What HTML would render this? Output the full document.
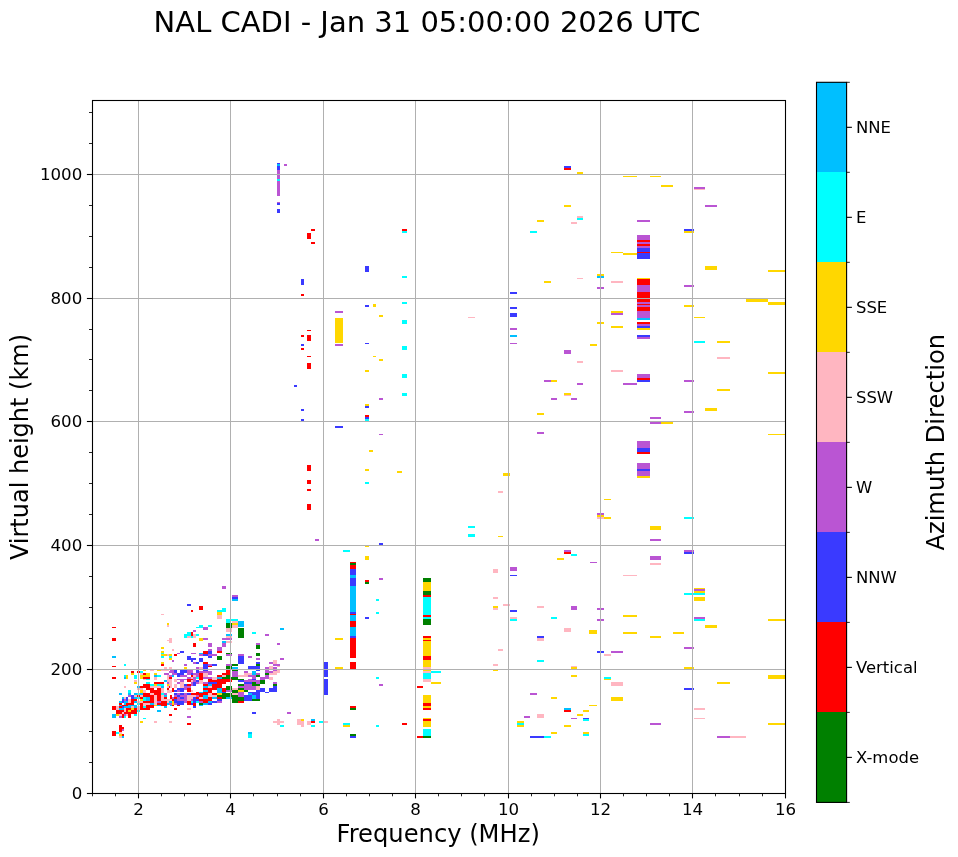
<!DOCTYPE html>
<html><head><meta charset="utf-8"><title>NAL CADI</title>
<style>html,body{margin:0;padding:0;background:#fff;}svg{display:block;}text{font-family:"DejaVu Sans","Liberation Sans",sans-serif;fill:#000;}</style></head><body>
<svg width="958" height="857" viewBox="0 0 958 857">
<rect width="958" height="857" fill="#fff"/>
<g shape-rendering="crispEdges">
<rect x="277" y="163" width="3" height="1.4" fill="#3a3aff"/>
<rect x="277" y="164.4" width="3" height="1.9" fill="#00bfff"/>
<rect x="277" y="166.3" width="3" height="3.7" fill="#3a3aff"/>
<rect x="277" y="170" width="3" height="8.8" fill="#ba55d3"/>
<rect x="277" y="178.8" width="3" height="2.2" fill="#00ffff"/>
<rect x="277" y="181" width="3" height="15" fill="#ba55d3"/>
<rect x="277" y="202" width="3" height="1" fill="#ba55d3"/>
<rect x="277" y="203" width="3" height="2" fill="#3a3aff"/>
<rect x="277" y="209" width="3" height="4" fill="#3a3aff"/>
<rect x="284" y="164" width="3" height="2" fill="#ba55d3"/>
<rect x="311" y="229" width="4" height="2" fill="#ff0000"/>
<rect x="307" y="233" width="4" height="6" fill="#ff0000"/>
<rect x="311" y="242" width="4" height="2" fill="#ff0000"/>
<rect x="301" y="279" width="3" height="6" fill="#3a3aff"/>
<rect x="301" y="294" width="3" height="2" fill="#ff0000"/>
<rect x="365" y="266" width="4" height="6" fill="#3a3aff"/>
<rect x="402" y="276" width="5.3" height="2" fill="#00ffff"/>
<rect x="402" y="302" width="5.3" height="2" fill="#00ffff"/>
<rect x="365" y="305" width="4" height="2" fill="#3a3aff"/>
<rect x="373" y="304" width="3" height="3" fill="#ffd700"/>
<rect x="335" y="311" width="8" height="2" fill="#ba55d3"/>
<rect x="379" y="315" width="4" height="2" fill="#ffd700"/>
<rect x="335" y="318" width="8" height="25" fill="#ffd700"/>
<rect x="335" y="344" width="8" height="2" fill="#ba55d3"/>
<rect x="402" y="320" width="5.3" height="4" fill="#00ffff"/>
<rect x="307" y="330" width="4" height="1" fill="#ff0000"/>
<rect x="301" y="335" width="3" height="2" fill="#ff0000"/>
<rect x="307" y="335" width="4" height="6" fill="#ff0000"/>
<rect x="301" y="344" width="3" height="2" fill="#3a3aff"/>
<rect x="301" y="348" width="3" height="2" fill="#ff0000"/>
<rect x="365" y="343" width="4" height="1" fill="#3a3aff"/>
<rect x="402" y="346" width="5.3" height="4" fill="#00ffff"/>
<rect x="307" y="356" width="4" height="1" fill="#ff0000"/>
<rect x="373" y="356" width="3" height="1" fill="#ffd700"/>
<rect x="379" y="359" width="4" height="2" fill="#ffd700"/>
<rect x="307" y="363" width="4" height="6" fill="#ff0000"/>
<rect x="365" y="370" width="4" height="2" fill="#ffd700"/>
<rect x="402" y="374" width="5.3" height="4" fill="#00ffff"/>
<rect x="402" y="229" width="5.3" height="2" fill="#ff0000"/>
<rect x="402" y="231" width="5.3" height="2" fill="#00ffff"/>
<rect x="294" y="385" width="3" height="2" fill="#3a3aff"/>
<rect x="301" y="409" width="3" height="2" fill="#3a3aff"/>
<rect x="301" y="419" width="3" height="2" fill="#3a3aff"/>
<rect x="402" y="393" width="5.3" height="3" fill="#00ffff"/>
<rect x="379" y="398" width="4" height="2" fill="#ba55d3"/>
<rect x="365" y="404" width="4" height="2" fill="#ffd700"/>
<rect x="365" y="406" width="4" height="2" fill="#3a3aff"/>
<rect x="365" y="415" width="4" height="2" fill="#ff0000"/>
<rect x="365" y="417" width="4" height="2" fill="#3a3aff"/>
<rect x="365" y="419" width="4" height="2" fill="#00ffff"/>
<rect x="335" y="426" width="8" height="2" fill="#3a3aff"/>
<rect x="379" y="434" width="4" height="1" fill="#ba55d3"/>
<rect x="369" y="450" width="4" height="2" fill="#ffd700"/>
<rect x="307" y="465" width="4" height="6" fill="#ff0000"/>
<rect x="365" y="469" width="4" height="2" fill="#ffd700"/>
<rect x="397" y="471" width="5" height="2" fill="#ffd700"/>
<rect x="307" y="480" width="4" height="4" fill="#ff0000"/>
<rect x="365" y="482" width="4" height="2" fill="#00ffff"/>
<rect x="307" y="489" width="4" height="2" fill="#ff0000"/>
<rect x="307" y="504" width="4" height="6" fill="#ff0000"/>
<rect x="315" y="539" width="4" height="2" fill="#ba55d3"/>
<rect x="379" y="543" width="4" height="2" fill="#3a3aff"/>
<rect x="365" y="546" width="4" height="1" fill="#ffd700"/>
<rect x="343" y="550" width="7" height="2" fill="#00ffff"/>
<rect x="365" y="556" width="4" height="4" fill="#ffd700"/>
<rect x="350" y="562" width="6" height="1" fill="#ff0000"/>
<rect x="350" y="563" width="6" height="2" fill="#008000"/>
<rect x="350" y="565" width="6" height="4" fill="#ff0000"/>
<rect x="350" y="569" width="6" height="6" fill="#3a3aff"/>
<rect x="350" y="575" width="6" height="3" fill="#00bfff"/>
<rect x="350" y="578" width="6" height="8" fill="#3a3aff"/>
<rect x="350" y="586" width="6" height="26" fill="#00bfff"/>
<rect x="350" y="612" width="6" height="2" fill="#3a3aff"/>
<rect x="350" y="614" width="6" height="1" fill="#ff0000"/>
<rect x="350" y="615" width="6" height="6" fill="#00bfff"/>
<rect x="350" y="621" width="6" height="6" fill="#ff0000"/>
<rect x="350" y="627" width="6" height="9" fill="#00bfff"/>
<rect x="350" y="636" width="6" height="2" fill="#3a3aff"/>
<rect x="350" y="638" width="6" height="20" fill="#ff0000"/>
<rect x="365" y="580" width="4" height="2" fill="#ff0000"/>
<rect x="365" y="582" width="4" height="2" fill="#008000"/>
<rect x="379" y="578" width="4" height="2" fill="#ba55d3"/>
<rect x="376" y="599" width="3" height="2" fill="#00ffff"/>
<rect x="376" y="612" width="3" height="2" fill="#00ffff"/>
<rect x="365" y="617" width="4" height="2" fill="#3a3aff"/>
<rect x="280" y="628" width="4" height="2" fill="#00bfff"/>
<rect x="335" y="638" width="8" height="2" fill="#ffd700"/>
<rect x="277" y="643" width="3" height="2" fill="#ba55d3"/>
<rect x="280" y="658" width="4" height="2" fill="#ba55d3"/>
<rect x="564" y="166" width="7" height="2" fill="#3a3aff"/>
<rect x="564" y="168" width="7" height="2" fill="#ff0000"/>
<rect x="577" y="172" width="6" height="2" fill="#ffd700"/>
<rect x="564" y="205" width="7" height="2" fill="#ffd700"/>
<rect x="577" y="216" width="6" height="2" fill="#ffb6c1"/>
<rect x="577" y="218" width="6" height="2" fill="#00ffff"/>
<rect x="537" y="220" width="7" height="2" fill="#ffd700"/>
<rect x="571" y="222" width="6" height="2" fill="#ffb6c1"/>
<rect x="530" y="231" width="7" height="2" fill="#00ffff"/>
<rect x="577" y="278" width="6" height="1" fill="#ffb6c1"/>
<rect x="544" y="281" width="7" height="2" fill="#ffd700"/>
<rect x="510" y="292" width="7" height="2" fill="#3a3aff"/>
<rect x="510" y="307" width="7" height="2" fill="#3a3aff"/>
<rect x="510" y="313" width="7" height="4" fill="#3a3aff"/>
<rect x="468" y="317" width="7" height="1" fill="#ffb6c1"/>
<rect x="510" y="328" width="7" height="2" fill="#ba55d3"/>
<rect x="510" y="335" width="7" height="2" fill="#00bfff"/>
<rect x="510" y="343" width="7" height="1" fill="#ba55d3"/>
<rect x="564" y="350" width="7" height="4" fill="#ba55d3"/>
<rect x="577" y="361" width="6" height="2" fill="#ffb6c1"/>
<rect x="544" y="380" width="7" height="2" fill="#ba55d3"/>
<rect x="551" y="380" width="6" height="2" fill="#ffd700"/>
<rect x="577" y="383" width="6" height="2" fill="#ba55d3"/>
<rect x="564" y="393" width="7" height="2" fill="#ffd700"/>
<rect x="564" y="395" width="7" height="1" fill="#ffb6c1"/>
<rect x="551" y="398" width="6" height="2" fill="#ba55d3"/>
<rect x="571" y="398" width="6" height="2" fill="#ba55d3"/>
<rect x="537" y="413" width="7" height="2" fill="#ffd700"/>
<rect x="537" y="432" width="7" height="2" fill="#ba55d3"/>
<rect x="503" y="473" width="7" height="3" fill="#ffd700"/>
<rect x="498" y="491" width="5" height="2" fill="#ffb6c1"/>
<rect x="468" y="526" width="7" height="2" fill="#00ffff"/>
<rect x="468" y="534" width="7" height="3" fill="#00ffff"/>
<rect x="498" y="536" width="5" height="1" fill="#ffd700"/>
<rect x="564" y="550" width="7" height="2" fill="#ba55d3"/>
<rect x="564" y="552" width="7" height="2" fill="#ff0000"/>
<rect x="571" y="554" width="6" height="2" fill="#00ffff"/>
<rect x="557" y="558" width="7" height="2" fill="#ffd700"/>
<rect x="623" y="176" width="14" height="1" fill="#ffd700"/>
<rect x="650" y="176" width="11" height="1" fill="#ffd700"/>
<rect x="661" y="185" width="12" height="2" fill="#ffd700"/>
<rect x="694" y="187" width="11" height="2" fill="#ba55d3"/>
<rect x="694" y="189" width="11" height="1" fill="#ffb6c1"/>
<rect x="705" y="205" width="12" height="2" fill="#ba55d3"/>
<rect x="637" y="220" width="13" height="2" fill="#ba55d3"/>
<rect x="684" y="229" width="10" height="2" fill="#3a3aff"/>
<rect x="684" y="231" width="10" height="2" fill="#ffd700"/>
<rect x="637" y="235" width="13" height="5" fill="#ba55d3"/>
<rect x="637" y="240" width="13" height="2" fill="#ff0000"/>
<rect x="637" y="242" width="13" height="2" fill="#ba55d3"/>
<rect x="637" y="244" width="13" height="2" fill="#ff0000"/>
<rect x="637" y="246" width="13" height="2" fill="#ba55d3"/>
<rect x="637" y="248" width="13" height="4" fill="#3a3aff"/>
<rect x="637" y="252" width="13" height="1" fill="#ff0000"/>
<rect x="637" y="253" width="13" height="6" fill="#3a3aff"/>
<rect x="611" y="252" width="12" height="1" fill="#ffd700"/>
<rect x="623" y="253" width="14" height="2" fill="#ffd700"/>
<rect x="705" y="266" width="12" height="4" fill="#ffd700"/>
<rect x="597" y="274" width="7" height="2" fill="#ffd700"/>
<rect x="597" y="276" width="7" height="2" fill="#00bfff"/>
<rect x="611" y="281" width="12" height="2" fill="#ffb6c1"/>
<rect x="597" y="287" width="7" height="2" fill="#ba55d3"/>
<rect x="684" y="285" width="10" height="2" fill="#ba55d3"/>
<rect x="637" y="278" width="13" height="1" fill="#ffd700"/>
<rect x="637" y="279" width="13" height="6" fill="#ff0000"/>
<rect x="637" y="285" width="13" height="7" fill="#ba55d3"/>
<rect x="637" y="292" width="13" height="10" fill="#ff0000"/>
<rect x="637" y="302" width="13" height="2" fill="#ba55d3"/>
<rect x="637" y="304" width="13" height="1" fill="#ff0000"/>
<rect x="637" y="305" width="13" height="2" fill="#ba55d3"/>
<rect x="637" y="307" width="13" height="4" fill="#ff0000"/>
<rect x="637" y="311" width="13" height="7" fill="#ba55d3"/>
<rect x="637" y="318" width="13" height="2" fill="#00bfff"/>
<rect x="637" y="322" width="13" height="2" fill="#ff0000"/>
<rect x="637" y="324" width="13" height="2" fill="#ba55d3"/>
<rect x="637" y="326" width="13" height="2" fill="#3a3aff"/>
<rect x="637" y="328" width="13" height="2" fill="#ffd700"/>
<rect x="637" y="335" width="13" height="2" fill="#3a3aff"/>
<rect x="637" y="337" width="13" height="2" fill="#ba55d3"/>
<rect x="684" y="305" width="10" height="2" fill="#ffd700"/>
<rect x="611" y="311" width="12" height="2" fill="#ffd700"/>
<rect x="611" y="313" width="12" height="2" fill="#ba55d3"/>
<rect x="694" y="317" width="11" height="1" fill="#ffd700"/>
<rect x="597" y="322" width="7" height="2" fill="#ffd700"/>
<rect x="611" y="326" width="12" height="2" fill="#ffd700"/>
<rect x="694" y="341" width="11" height="2" fill="#00ffff"/>
<rect x="717" y="341" width="13" height="2" fill="#ffd700"/>
<rect x="590" y="344" width="7" height="2" fill="#ffd700"/>
<rect x="717" y="357" width="13" height="2" fill="#ffb6c1"/>
<rect x="611" y="370" width="12" height="2" fill="#ffb6c1"/>
<rect x="637" y="374" width="13" height="4" fill="#ba55d3"/>
<rect x="637" y="378" width="13" height="2" fill="#ff0000"/>
<rect x="637" y="380" width="13" height="2" fill="#3a3aff"/>
<rect x="684" y="380" width="10" height="2" fill="#ba55d3"/>
<rect x="623" y="383" width="14" height="2" fill="#ba55d3"/>
<rect x="717" y="389" width="13" height="2" fill="#ffd700"/>
<rect x="705" y="408" width="12" height="3" fill="#ffd700"/>
<rect x="684" y="411" width="10" height="2" fill="#ba55d3"/>
<rect x="650" y="417" width="11" height="2" fill="#ba55d3"/>
<rect x="650" y="422" width="11" height="2" fill="#ba55d3"/>
<rect x="661" y="422" width="12" height="2" fill="#ffd700"/>
<rect x="637" y="441" width="13" height="7" fill="#ba55d3"/>
<rect x="637" y="448" width="13" height="4" fill="#3a3aff"/>
<rect x="637" y="452" width="13" height="2" fill="#ff0000"/>
<rect x="637" y="463" width="13" height="6" fill="#ba55d3"/>
<rect x="637" y="469" width="13" height="2" fill="#3a3aff"/>
<rect x="637" y="471" width="13" height="5" fill="#ba55d3"/>
<rect x="637" y="476" width="13" height="2" fill="#ffd700"/>
<rect x="604" y="499" width="7" height="1" fill="#ffd700"/>
<rect x="597" y="513" width="7" height="2" fill="#ba55d3"/>
<rect x="597" y="515" width="7" height="2" fill="#ffd700"/>
<rect x="597" y="517" width="7" height="2" fill="#ffb6c1"/>
<rect x="604" y="517" width="7" height="2" fill="#ffd700"/>
<rect x="684" y="517" width="10" height="2" fill="#00ffff"/>
<rect x="650" y="526" width="11" height="4" fill="#ffd700"/>
<rect x="650" y="539" width="11" height="2" fill="#ba55d3"/>
<rect x="684" y="550" width="10" height="2" fill="#ba55d3"/>
<rect x="684" y="552" width="10" height="2" fill="#3a3aff"/>
<rect x="650" y="556" width="11" height="4" fill="#ba55d3"/>
<rect x="650" y="563" width="11" height="2" fill="#ffb6c1"/>
<rect x="590" y="562" width="7" height="1" fill="#ba55d3"/>
<rect x="623" y="575" width="14" height="1" fill="#ffb6c1"/>
<rect x="768" y="270" width="17" height="2" fill="#ffd700"/>
<rect x="746" y="299" width="22" height="3" fill="#ffd700"/>
<rect x="768" y="302" width="17" height="3" fill="#ffd700"/>
<rect x="768" y="372" width="17" height="2" fill="#ffd700"/>
<rect x="768" y="433.5" width="17" height="1.5" fill="#ffd700"/>
<rect x="694" y="588" width="11" height="1" fill="#ffd700"/>
<rect x="694" y="589" width="11" height="2" fill="#ba55d3"/>
<rect x="694" y="591" width="11" height="2" fill="#ffd700"/>
<rect x="684" y="593" width="21" height="2" fill="#00ffff"/>
<rect x="694" y="597" width="11" height="4" fill="#ffd700"/>
<rect x="694" y="617" width="11" height="2" fill="#ba55d3"/>
<rect x="694" y="619" width="11" height="2" fill="#00ffff"/>
<rect x="768" y="619" width="17" height="2" fill="#ffd700"/>
<rect x="705" y="625" width="12" height="3" fill="#ffd700"/>
<rect x="673" y="632" width="11" height="2" fill="#ffd700"/>
<rect x="684" y="647" width="10" height="2" fill="#ba55d3"/>
<rect x="684" y="667" width="10" height="2" fill="#ffd700"/>
<rect x="768" y="675" width="17" height="4" fill="#ffd700"/>
<rect x="717" y="682" width="13" height="2" fill="#ffd700"/>
<rect x="684" y="688" width="10" height="2" fill="#3a3aff"/>
<rect x="694" y="708" width="11" height="2" fill="#ffb6c1"/>
<rect x="694" y="718" width="11" height="1" fill="#ffb6c1"/>
<rect x="768" y="723" width="17" height="2" fill="#ffd700"/>
<rect x="717" y="736" width="13" height="2" fill="#ba55d3"/>
<rect x="730" y="736" width="16" height="2" fill="#ffb6c1"/>
<rect x="510" y="567" width="7" height="4" fill="#ba55d3"/>
<rect x="510" y="575" width="7" height="1" fill="#3a3aff"/>
<rect x="493" y="569" width="5" height="4" fill="#ffb6c1"/>
<rect x="493" y="597" width="5" height="2" fill="#ffb6c1"/>
<rect x="503" y="604" width="7" height="2" fill="#ffb6c1"/>
<rect x="493" y="606" width="5" height="2" fill="#ffd700"/>
<rect x="493" y="608" width="5" height="2" fill="#ffb6c1"/>
<rect x="537" y="606" width="7" height="2" fill="#ffb6c1"/>
<rect x="571" y="606" width="6" height="4" fill="#ba55d3"/>
<rect x="510" y="610" width="7" height="2" fill="#3a3aff"/>
<rect x="510" y="617" width="7" height="2" fill="#ffb6c1"/>
<rect x="510" y="619" width="7" height="2" fill="#00ffff"/>
<rect x="551" y="617" width="6" height="2" fill="#00ffff"/>
<rect x="564" y="628" width="7" height="4" fill="#ffb6c1"/>
<rect x="589" y="630" width="8" height="4" fill="#ffd700"/>
<rect x="537" y="636" width="7" height="2" fill="#3a3aff"/>
<rect x="537" y="638" width="7" height="3" fill="#ffb6c1"/>
<rect x="498" y="649" width="5" height="2" fill="#ffb6c1"/>
<rect x="537" y="660" width="7" height="2" fill="#00ffff"/>
<rect x="493" y="664" width="5" height="2" fill="#ffb6c1"/>
<rect x="571" y="666" width="6" height="1" fill="#ffb6c1"/>
<rect x="571" y="667" width="6" height="2" fill="#ffd700"/>
<rect x="493" y="670" width="5" height="1" fill="#ffd700"/>
<rect x="431" y="671" width="10" height="2" fill="#00ffff"/>
<rect x="571" y="675" width="6" height="2" fill="#ffd700"/>
<rect x="431" y="682" width="10" height="2" fill="#ffd700"/>
<rect x="530" y="693" width="7" height="2" fill="#ba55d3"/>
<rect x="551" y="697" width="6" height="2" fill="#ffd700"/>
<rect x="589" y="705" width="8" height="1" fill="#ffd700"/>
<rect x="564" y="708" width="7" height="2" fill="#00bfff"/>
<rect x="564" y="710" width="7" height="2" fill="#ff0000"/>
<rect x="583" y="710" width="6" height="2" fill="#ffd700"/>
<rect x="577" y="714" width="6" height="2" fill="#ffd700"/>
<rect x="524" y="716" width="6" height="2" fill="#ba55d3"/>
<rect x="537" y="714" width="7" height="4" fill="#ffb6c1"/>
<rect x="571" y="718" width="6" height="1" fill="#ba55d3"/>
<rect x="583" y="718" width="6" height="1" fill="#3a3aff"/>
<rect x="583" y="719" width="6" height="2" fill="#00ffff"/>
<rect x="517" y="721" width="7" height="2" fill="#ffd700"/>
<rect x="517" y="723" width="7" height="2" fill="#00ffff"/>
<rect x="517" y="725" width="7" height="2" fill="#ffd700"/>
<rect x="564" y="725" width="7" height="2" fill="#ffd700"/>
<rect x="551" y="732" width="6" height="2" fill="#ffd700"/>
<rect x="583" y="732" width="6" height="2" fill="#ffd700"/>
<rect x="583" y="734" width="6" height="2" fill="#00ffff"/>
<rect x="530" y="736" width="14" height="2" fill="#3a3aff"/>
<rect x="544" y="736" width="7" height="2" fill="#00ffff"/>
<rect x="597" y="608" width="7" height="2" fill="#ba55d3"/>
<rect x="623" y="615" width="14" height="2" fill="#ffd700"/>
<rect x="597" y="619" width="7" height="2" fill="#ba55d3"/>
<rect x="623" y="632" width="14" height="2" fill="#ffd700"/>
<rect x="673" y="632" width="11" height="2" fill="#ffd700"/>
<rect x="650" y="636" width="11" height="2" fill="#ffd700"/>
<rect x="597" y="651" width="7" height="2" fill="#3a3aff"/>
<rect x="611" y="651" width="12" height="2" fill="#ba55d3"/>
<rect x="604" y="654" width="7" height="2" fill="#ffb6c1"/>
<rect x="604" y="677" width="7" height="2" fill="#00ffff"/>
<rect x="604" y="679" width="7" height="1" fill="#ffd700"/>
<rect x="611" y="682" width="12" height="4" fill="#ffb6c1"/>
<rect x="611" y="697" width="12" height="4" fill="#ffd700"/>
<rect x="650" y="723" width="11" height="2" fill="#ba55d3"/>
<rect x="350" y="662" width="6" height="7" fill="#ff0000"/>
<rect x="335" y="667" width="8" height="2" fill="#ffd700"/>
<rect x="324" y="662" width="4" height="15" fill="#3a3aff"/>
<rect x="324" y="679" width="4" height="16" fill="#3a3aff"/>
<rect x="376" y="677" width="3" height="2" fill="#00ffff"/>
<rect x="379" y="684" width="4" height="2" fill="#ba55d3"/>
<rect x="417" y="686" width="6" height="2" fill="#ff0000"/>
<rect x="350" y="706" width="6" height="2" fill="#ff0000"/>
<rect x="350" y="708" width="6" height="2" fill="#008000"/>
<rect x="287" y="712" width="4" height="2" fill="#ba55d3"/>
<rect x="343" y="723" width="7" height="2" fill="#00ffff"/>
<rect x="343" y="725" width="7" height="2" fill="#ffd700"/>
<rect x="376" y="725" width="3" height="2" fill="#00ffff"/>
<rect x="402" y="723" width="5" height="2" fill="#ff0000"/>
<rect x="350" y="734" width="6" height="2" fill="#008000"/>
<rect x="350" y="736" width="6" height="2" fill="#3a3aff"/>
<rect x="417" y="736" width="6" height="2" fill="#ff0000"/>
<rect x="273" y="721" width="11" height="2" fill="#ffb6c1"/>
<rect x="277" y="719" width="3" height="6" fill="#ffb6c1"/>
<rect x="280" y="725" width="4" height="2" fill="#00ffff"/>
<rect x="297" y="719" width="4" height="6" fill="#ffb6c1"/>
<rect x="301" y="719" width="3" height="2" fill="#ffd700"/>
<rect x="301" y="721" width="3" height="6" fill="#ffb6c1"/>
<rect x="307" y="721" width="4" height="4" fill="#ffb6c1"/>
<rect x="311" y="719" width="4" height="2" fill="#00bfff"/>
<rect x="311" y="721" width="4" height="2" fill="#ff0000"/>
<rect x="311" y="725" width="4" height="2" fill="#00ffff"/>
<rect x="319" y="721" width="5" height="2" fill="#00ffff"/>
<rect x="324" y="721" width="4" height="2" fill="#ffb6c1"/>
<rect x="423" y="578" width="8" height="4" fill="#008000"/>
<rect x="423" y="582" width="8" height="9" fill="#ffd700"/>
<rect x="423" y="591" width="8" height="4" fill="#008000"/>
<rect x="423" y="595" width="8" height="2" fill="#ff0000"/>
<rect x="423" y="597" width="8" height="18" fill="#00ffff"/>
<rect x="423" y="615" width="8" height="2" fill="#ff0000"/>
<rect x="423" y="617" width="8" height="2" fill="#00ffff"/>
<rect x="423" y="619" width="8" height="6" fill="#008000"/>
<rect x="423" y="636" width="8" height="2" fill="#ff0000"/>
<rect x="423" y="638" width="8" height="2" fill="#ffd700"/>
<rect x="423" y="640" width="8" height="1" fill="#ff0000"/>
<rect x="423" y="641" width="8" height="15" fill="#ffd700"/>
<rect x="423" y="656" width="8" height="4" fill="#ff0000"/>
<rect x="423" y="660" width="8" height="7" fill="#ffd700"/>
<rect x="423" y="667" width="8" height="2" fill="#ffb6c1"/>
<rect x="423" y="669" width="8" height="2" fill="#ffd700"/>
<rect x="423" y="671" width="8" height="2" fill="#ffb6c1"/>
<rect x="423" y="673" width="8" height="6" fill="#00ffff"/>
<rect x="423" y="679" width="8" height="3" fill="#ffb6c1"/>
<rect x="423" y="695" width="8" height="8" fill="#ffd700"/>
<rect x="423" y="703" width="8" height="3" fill="#ff0000"/>
<rect x="423" y="706" width="8" height="2" fill="#ffd700"/>
<rect x="423" y="708" width="8" height="2" fill="#ff0000"/>
<rect x="423" y="718" width="8" height="1" fill="#ffd700"/>
<rect x="423" y="719" width="8" height="2" fill="#ff0000"/>
<rect x="423" y="721" width="8" height="6" fill="#ffd700"/>
<rect x="423" y="729" width="8" height="7" fill="#00ffff"/>
<rect x="423" y="736" width="8" height="2" fill="#008000"/>
<rect x="128" y="690" width="3" height="3" fill="#00ffff"/>
<rect x="140" y="690" width="3" height="3" fill="#ffd700"/>
<rect x="143" y="690" width="3" height="3" fill="#ffb6c1"/>
<rect x="150" y="690" width="11" height="3" fill="#ff0000"/>
<rect x="161" y="690" width="3" height="3" fill="#ffb6c1"/>
<rect x="167" y="690" width="3" height="3" fill="#ffb6c1"/>
<rect x="119" y="693" width="3" height="2" fill="#00bfff"/>
<rect x="128" y="693" width="3" height="2" fill="#00bfff"/>
<rect x="134" y="693" width="3" height="2" fill="#00bfff"/>
<rect x="137" y="693" width="3" height="2" fill="#00ffff"/>
<rect x="140" y="693" width="3" height="2" fill="#00bfff"/>
<rect x="143" y="693" width="7" height="2" fill="#ff0000"/>
<rect x="150" y="693" width="4" height="2" fill="#ffb6c1"/>
<rect x="154" y="693" width="7" height="2" fill="#ff0000"/>
<rect x="161" y="693" width="3" height="2" fill="#00ffff"/>
<rect x="164" y="693" width="3" height="2" fill="#ba55d3"/>
<rect x="128" y="695" width="3" height="2" fill="#ba55d3"/>
<rect x="131" y="695" width="3" height="2" fill="#3a3aff"/>
<rect x="134" y="695" width="3" height="2" fill="#ffb6c1"/>
<rect x="137" y="695" width="3" height="2" fill="#ff0000"/>
<rect x="140" y="695" width="3" height="2" fill="#ffb6c1"/>
<rect x="143" y="695" width="11" height="2" fill="#ff0000"/>
<rect x="154" y="695" width="3" height="2" fill="#ffb6c1"/>
<rect x="157" y="695" width="4" height="2" fill="#ff0000"/>
<rect x="161" y="695" width="3" height="2" fill="#ffb6c1"/>
<rect x="164" y="695" width="3" height="2" fill="#00bfff"/>
<rect x="122" y="697" width="2" height="2" fill="#00bfff"/>
<rect x="124" y="697" width="2" height="2" fill="#ffb6c1"/>
<rect x="126" y="697" width="2" height="2" fill="#3a3aff"/>
<rect x="131" y="697" width="3" height="2" fill="#3a3aff"/>
<rect x="134" y="697" width="3" height="2" fill="#00bfff"/>
<rect x="137" y="697" width="3" height="2" fill="#00ffff"/>
<rect x="140" y="697" width="3" height="2" fill="#ff0000"/>
<rect x="143" y="697" width="3" height="2" fill="#00ffff"/>
<rect x="146" y="697" width="4" height="2" fill="#00bfff"/>
<rect x="150" y="697" width="4" height="2" fill="#ff0000"/>
<rect x="154" y="697" width="3" height="2" fill="#ffb6c1"/>
<rect x="157" y="697" width="4" height="2" fill="#ff0000"/>
<rect x="161" y="697" width="3" height="2" fill="#ffb6c1"/>
<rect x="164" y="697" width="3" height="2" fill="#ff0000"/>
<rect x="122" y="699" width="2" height="2" fill="#3a3aff"/>
<rect x="124" y="699" width="2" height="2" fill="#ba55d3"/>
<rect x="126" y="699" width="2" height="2" fill="#3a3aff"/>
<rect x="128" y="699" width="3" height="2" fill="#ffb6c1"/>
<rect x="131" y="699" width="6" height="2" fill="#ff0000"/>
<rect x="140" y="699" width="3" height="2" fill="#ffd700"/>
<rect x="143" y="699" width="3" height="2" fill="#00ffff"/>
<rect x="146" y="699" width="4" height="2" fill="#00bfff"/>
<rect x="150" y="699" width="4" height="2" fill="#ff0000"/>
<rect x="154" y="699" width="3" height="2" fill="#ffb6c1"/>
<rect x="157" y="699" width="4" height="2" fill="#ff0000"/>
<rect x="161" y="699" width="9" height="2" fill="#ffb6c1"/>
<rect x="119" y="701" width="3" height="2" fill="#00bfff"/>
<rect x="122" y="701" width="2" height="2" fill="#3a3aff"/>
<rect x="124" y="701" width="4" height="2" fill="#00bfff"/>
<rect x="128" y="701" width="3" height="2" fill="#ffb6c1"/>
<rect x="131" y="701" width="3" height="2" fill="#ff0000"/>
<rect x="134" y="701" width="3" height="2" fill="#00bfff"/>
<rect x="137" y="701" width="6" height="2" fill="#ffb6c1"/>
<rect x="143" y="701" width="11" height="2" fill="#ff0000"/>
<rect x="154" y="701" width="3" height="2" fill="#ffb6c1"/>
<rect x="157" y="701" width="4" height="2" fill="#ba55d3"/>
<rect x="161" y="701" width="6" height="2" fill="#ff0000"/>
<rect x="167" y="701" width="2" height="2" fill="#ffb6c1"/>
<rect x="169" y="701" width="1" height="2" fill="#00bfff"/>
<rect x="119" y="703" width="3" height="2" fill="#ff0000"/>
<rect x="124" y="703" width="2" height="2" fill="#00bfff"/>
<rect x="126" y="703" width="8" height="2" fill="#ff0000"/>
<rect x="137" y="703" width="3" height="2" fill="#00ffff"/>
<rect x="140" y="703" width="3" height="2" fill="#ff0000"/>
<rect x="143" y="703" width="7" height="2" fill="#ffb6c1"/>
<rect x="150" y="703" width="4" height="2" fill="#00bfff"/>
<rect x="154" y="703" width="3" height="2" fill="#ffb6c1"/>
<rect x="157" y="703" width="10" height="2" fill="#ff0000"/>
<rect x="167" y="703" width="2" height="2" fill="#00bfff"/>
<rect x="169" y="703" width="1" height="2" fill="#ba55d3"/>
<rect x="119" y="705" width="3" height="1" fill="#00bfff"/>
<rect x="122" y="705" width="6" height="1" fill="#ff0000"/>
<rect x="128" y="705" width="9" height="1" fill="#00bfff"/>
<rect x="140" y="705" width="3" height="1" fill="#ff0000"/>
<rect x="143" y="705" width="3" height="1" fill="#ffb6c1"/>
<rect x="146" y="705" width="8" height="1" fill="#ff0000"/>
<rect x="154" y="705" width="3" height="1" fill="#ffd700"/>
<rect x="157" y="705" width="4" height="1" fill="#00bfff"/>
<rect x="161" y="705" width="6" height="1" fill="#ff0000"/>
<rect x="112" y="706" width="4" height="2" fill="#ff0000"/>
<rect x="116" y="706" width="3" height="2" fill="#ffb6c1"/>
<rect x="119" y="706" width="3" height="2" fill="#ff0000"/>
<rect x="122" y="706" width="2" height="2" fill="#3a3aff"/>
<rect x="124" y="706" width="7" height="2" fill="#00bfff"/>
<rect x="131" y="706" width="3" height="2" fill="#ffb6c1"/>
<rect x="134" y="706" width="3" height="2" fill="#00bfff"/>
<rect x="137" y="706" width="3" height="2" fill="#ffb6c1"/>
<rect x="140" y="706" width="3" height="2" fill="#ff0000"/>
<rect x="143" y="706" width="3" height="2" fill="#00ffff"/>
<rect x="146" y="706" width="8" height="2" fill="#ff0000"/>
<rect x="164" y="706" width="3" height="2" fill="#00bfff"/>
<rect x="112" y="708" width="4" height="2" fill="#ff0000"/>
<rect x="116" y="708" width="3" height="2" fill="#ffb6c1"/>
<rect x="119" y="708" width="5" height="2" fill="#00bfff"/>
<rect x="124" y="708" width="2" height="2" fill="#ffb6c1"/>
<rect x="126" y="708" width="5" height="2" fill="#ff0000"/>
<rect x="131" y="708" width="3" height="2" fill="#ffd700"/>
<rect x="134" y="708" width="3" height="2" fill="#ff0000"/>
<rect x="137" y="708" width="3" height="2" fill="#ffb6c1"/>
<rect x="140" y="708" width="10" height="2" fill="#ff0000"/>
<rect x="116" y="710" width="8" height="2" fill="#ff0000"/>
<rect x="124" y="710" width="2" height="2" fill="#ffb6c1"/>
<rect x="126" y="710" width="2" height="2" fill="#ff0000"/>
<rect x="128" y="710" width="3" height="2" fill="#ffd700"/>
<rect x="131" y="710" width="6" height="2" fill="#ff0000"/>
<rect x="137" y="710" width="3" height="2" fill="#00ffff"/>
<rect x="157" y="710" width="4" height="2" fill="#00bfff"/>
<rect x="116" y="712" width="6" height="2" fill="#ff0000"/>
<rect x="122" y="712" width="2" height="2" fill="#ffb6c1"/>
<rect x="124" y="712" width="13" height="2" fill="#ff0000"/>
<rect x="112" y="714" width="4" height="2" fill="#00bfff"/>
<rect x="116" y="714" width="3" height="2" fill="#ffd700"/>
<rect x="119" y="714" width="3" height="2" fill="#ffb6c1"/>
<rect x="122" y="714" width="2" height="2" fill="#ff0000"/>
<rect x="124" y="714" width="2" height="2" fill="#ba55d3"/>
<rect x="126" y="714" width="2" height="2" fill="#ffb6c1"/>
<rect x="128" y="714" width="3" height="2" fill="#ff0000"/>
<rect x="134" y="714" width="3" height="2" fill="#00ffff"/>
<rect x="169" y="714" width="1" height="2" fill="#ff0000"/>
<rect x="112" y="716" width="4" height="2" fill="#00bfff"/>
<rect x="119" y="716" width="3" height="2" fill="#ba55d3"/>
<rect x="122" y="716" width="2" height="2" fill="#ff0000"/>
<rect x="124" y="716" width="2" height="2" fill="#00ffff"/>
<rect x="128" y="716" width="3" height="2" fill="#ff0000"/>
<rect x="143" y="718" width="3" height="1" fill="#00ffff"/>
<rect x="140" y="721" width="3" height="2" fill="#ffd700"/>
<rect x="154" y="721" width="3" height="2" fill="#ffb6c1"/>
<rect x="169" y="721" width="1" height="2" fill="#ffb6c1"/>
<rect x="119" y="725" width="3" height="2" fill="#ff0000"/>
<rect x="119" y="727" width="5" height="2" fill="#ff0000"/>
<rect x="119" y="729" width="3" height="2" fill="#ff0000"/>
<rect x="122" y="729" width="2" height="2" fill="#ba55d3"/>
<rect x="112" y="731" width="4" height="1" fill="#ff0000"/>
<rect x="119" y="731" width="3" height="1" fill="#ff0000"/>
<rect x="112" y="732" width="4" height="2" fill="#ff0000"/>
<rect x="116" y="732" width="3" height="2" fill="#00ffff"/>
<rect x="119" y="732" width="3" height="2" fill="#ffb6c1"/>
<rect x="112" y="734" width="4" height="2" fill="#ff0000"/>
<rect x="119" y="734" width="3" height="2" fill="#ffd700"/>
<rect x="122" y="734" width="2" height="2" fill="#ff0000"/>
<rect x="119" y="736" width="3" height="2" fill="#ffb6c1"/>
<rect x="122" y="736" width="2" height="2" fill="#00bfff"/>
<rect x="112" y="627" width="4" height="1" fill="#ff0000"/>
<rect x="112" y="638" width="4" height="3" fill="#ff0000"/>
<rect x="169" y="638" width="1" height="3" fill="#ffb6c1"/>
<rect x="167" y="640" width="2" height="1" fill="#ffb6c1"/>
<rect x="169" y="641" width="1" height="2" fill="#ffb6c1"/>
<rect x="112" y="656" width="4" height="2" fill="#00bfff"/>
<rect x="112" y="666" width="4" height="1" fill="#ff0000"/>
<rect x="112" y="677" width="4" height="2" fill="#ff0000"/>
<rect x="124" y="664" width="2" height="2" fill="#00ffff"/>
<rect x="161" y="647" width="3" height="2" fill="#ffd700"/>
<rect x="161" y="651" width="3" height="2" fill="#ffd700"/>
<rect x="161" y="653" width="3" height="1" fill="#00ffff"/>
<rect x="161" y="654" width="6" height="2" fill="#ffd700"/>
<rect x="167" y="654" width="2" height="2" fill="#ffb6c1"/>
<rect x="169" y="654" width="1" height="2" fill="#ffd700"/>
<rect x="161" y="656" width="3" height="2" fill="#00ffff"/>
<rect x="169" y="656" width="1" height="2" fill="#00ffff"/>
<rect x="169" y="658" width="1" height="2" fill="#ffd700"/>
<rect x="161" y="662" width="3" height="2" fill="#ffd700"/>
<rect x="161" y="664" width="3" height="2" fill="#ff0000"/>
<rect x="164" y="667" width="3" height="2" fill="#ffb6c1"/>
<rect x="169" y="667" width="1" height="2" fill="#ffb6c1"/>
<rect x="143" y="670" width="3" height="1" fill="#ffd700"/>
<rect x="150" y="670" width="4" height="1" fill="#ffb6c1"/>
<rect x="157" y="670" width="4" height="1" fill="#ffd700"/>
<rect x="161" y="670" width="8" height="1" fill="#ffb6c1"/>
<rect x="131" y="671" width="3" height="2" fill="#ff0000"/>
<rect x="137" y="671" width="3" height="2" fill="#ff0000"/>
<rect x="140" y="671" width="3" height="2" fill="#00ffff"/>
<rect x="169" y="671" width="1" height="2" fill="#ba55d3"/>
<rect x="131" y="673" width="3" height="2" fill="#ffd700"/>
<rect x="140" y="673" width="3" height="2" fill="#ffb6c1"/>
<rect x="143" y="673" width="3" height="2" fill="#ff0000"/>
<rect x="146" y="673" width="4" height="2" fill="#ffd700"/>
<rect x="154" y="673" width="3" height="2" fill="#ffd700"/>
<rect x="164" y="673" width="5" height="2" fill="#ba55d3"/>
<rect x="124" y="675" width="2" height="2" fill="#00ffff"/>
<rect x="126" y="675" width="2" height="2" fill="#ffd700"/>
<rect x="134" y="675" width="3" height="2" fill="#00ffff"/>
<rect x="140" y="675" width="10" height="2" fill="#ffd700"/>
<rect x="154" y="675" width="3" height="2" fill="#00bfff"/>
<rect x="157" y="675" width="4" height="2" fill="#00ffff"/>
<rect x="167" y="675" width="2" height="2" fill="#ffb6c1"/>
<rect x="169" y="675" width="1" height="2" fill="#ba55d3"/>
<rect x="124" y="677" width="2" height="2" fill="#00bfff"/>
<rect x="126" y="677" width="2" height="2" fill="#ffd700"/>
<rect x="134" y="677" width="3" height="2" fill="#00ffff"/>
<rect x="140" y="677" width="3" height="2" fill="#ffd700"/>
<rect x="143" y="677" width="7" height="2" fill="#ff0000"/>
<rect x="154" y="677" width="3" height="2" fill="#ffb6c1"/>
<rect x="167" y="677" width="2" height="2" fill="#ffb6c1"/>
<rect x="169" y="677" width="1" height="2" fill="#ff0000"/>
<rect x="143" y="679" width="3" height="1" fill="#ffb6c1"/>
<rect x="146" y="679" width="4" height="1" fill="#00ffff"/>
<rect x="154" y="679" width="3" height="1" fill="#ffb6c1"/>
<rect x="167" y="679" width="3" height="1" fill="#ffb6c1"/>
<rect x="134" y="680" width="3" height="2" fill="#ffb6c1"/>
<rect x="164" y="680" width="3" height="2" fill="#00bfff"/>
<rect x="167" y="680" width="3" height="2" fill="#ffb6c1"/>
<rect x="134" y="682" width="3" height="2" fill="#ffd700"/>
<rect x="146" y="682" width="4" height="2" fill="#00ffff"/>
<rect x="154" y="682" width="10" height="2" fill="#ff0000"/>
<rect x="167" y="682" width="2" height="2" fill="#ba55d3"/>
<rect x="169" y="682" width="1" height="2" fill="#ffb6c1"/>
<rect x="143" y="684" width="7" height="2" fill="#ff0000"/>
<rect x="150" y="684" width="4" height="2" fill="#00ffff"/>
<rect x="154" y="684" width="3" height="2" fill="#ffd700"/>
<rect x="157" y="684" width="7" height="2" fill="#00ffff"/>
<rect x="167" y="684" width="2" height="2" fill="#ffd700"/>
<rect x="169" y="684" width="1" height="2" fill="#ffb6c1"/>
<rect x="124" y="686" width="2" height="2" fill="#ffb6c1"/>
<rect x="137" y="686" width="3" height="2" fill="#00bfff"/>
<rect x="140" y="686" width="10" height="2" fill="#ff0000"/>
<rect x="150" y="686" width="11" height="2" fill="#ffb6c1"/>
<rect x="161" y="686" width="3" height="2" fill="#00bfff"/>
<rect x="167" y="686" width="2" height="2" fill="#ffb6c1"/>
<rect x="169" y="686" width="1" height="2" fill="#ff0000"/>
<rect x="137" y="688" width="6" height="2" fill="#ffb6c1"/>
<rect x="146" y="688" width="8" height="2" fill="#ff0000"/>
<rect x="157" y="688" width="4" height="2" fill="#ff0000"/>
<rect x="161" y="688" width="3" height="2" fill="#ffb6c1"/>
<rect x="167" y="688" width="2" height="2" fill="#ff0000"/>
<rect x="161" y="614" width="3" height="1" fill="#ffb6c1"/>
<rect x="167" y="623" width="2" height="2" fill="#ffd700"/>
<rect x="167" y="625" width="2" height="2" fill="#ffb6c1"/>
<rect x="232" y="595" width="6" height="2" fill="#ba55d3"/>
<rect x="232" y="597" width="6" height="2" fill="#3a3aff"/>
<rect x="232" y="599" width="6" height="2" fill="#00bfff"/>
<rect x="187" y="604" width="4" height="2" fill="#3a3aff"/>
<rect x="199" y="606" width="4" height="4" fill="#ff0000"/>
<rect x="191" y="610" width="2" height="2" fill="#ff0000"/>
<rect x="217" y="610" width="9" height="2" fill="#00ffff"/>
<rect x="222" y="608" width="4" height="2" fill="#00ffff"/>
<rect x="217" y="612" width="5" height="3" fill="#ffd700"/>
<rect x="217" y="615" width="5" height="4" fill="#ffb6c1"/>
<rect x="226" y="619" width="12" height="2" fill="#00ffff"/>
<rect x="226" y="621" width="4" height="2" fill="#00ffff"/>
<rect x="232" y="621" width="6" height="2" fill="#ffb6c1"/>
<rect x="238" y="621" width="6" height="2" fill="#00bfff"/>
<rect x="226" y="623" width="6" height="2" fill="#008000"/>
<rect x="232" y="623" width="6" height="2" fill="#ffd700"/>
<rect x="238" y="623" width="6" height="2" fill="#00bfff"/>
<rect x="199" y="625" width="4" height="2" fill="#00ffff"/>
<rect x="208" y="625" width="4" height="2" fill="#00ffff"/>
<rect x="226" y="625" width="6" height="2" fill="#008000"/>
<rect x="232" y="625" width="6" height="2" fill="#ffb6c1"/>
<rect x="238" y="625" width="6" height="2" fill="#00bfff"/>
<rect x="196" y="627" width="7" height="1" fill="#00ffff"/>
<rect x="203" y="627" width="5" height="1" fill="#ba55d3"/>
<rect x="226" y="627" width="6" height="1" fill="#008000"/>
<rect x="232" y="627" width="6" height="1" fill="#ffb6c1"/>
<rect x="203" y="628" width="5" height="2" fill="#ba55d3"/>
<rect x="226" y="628" width="6" height="2" fill="#ffb6c1"/>
<rect x="238" y="628" width="6" height="2" fill="#008000"/>
<rect x="193" y="630" width="3" height="2" fill="#ba55d3"/>
<rect x="226" y="630" width="6" height="2" fill="#ffb6c1"/>
<rect x="238" y="630" width="6" height="2" fill="#008000"/>
<rect x="187" y="632" width="4" height="2" fill="#00ffff"/>
<rect x="191" y="632" width="2" height="2" fill="#ff0000"/>
<rect x="238" y="632" width="6" height="2" fill="#008000"/>
<rect x="184" y="634" width="7" height="2" fill="#00ffff"/>
<rect x="191" y="634" width="2" height="2" fill="#ff0000"/>
<rect x="193" y="634" width="3" height="2" fill="#ffb6c1"/>
<rect x="196" y="634" width="3" height="2" fill="#00ffff"/>
<rect x="226" y="634" width="6" height="2" fill="#00bfff"/>
<rect x="238" y="634" width="6" height="2" fill="#008000"/>
<rect x="184" y="636" width="3" height="2" fill="#00ffff"/>
<rect x="187" y="636" width="4" height="2" fill="#ffb6c1"/>
<rect x="191" y="636" width="2" height="2" fill="#00ffff"/>
<rect x="193" y="636" width="3" height="2" fill="#ffb6c1"/>
<rect x="226" y="636" width="6" height="2" fill="#ffb6c1"/>
<rect x="238" y="636" width="6" height="2" fill="#008000"/>
<rect x="170" y="638" width="2" height="2" fill="#ffb6c1"/>
<rect x="199" y="638" width="4" height="2" fill="#ffd700"/>
<rect x="203" y="638" width="5" height="2" fill="#ba55d3"/>
<rect x="222" y="638" width="10" height="2" fill="#ba55d3"/>
<rect x="170" y="640" width="2" height="1" fill="#ffb6c1"/>
<rect x="199" y="640" width="4" height="1" fill="#ffd700"/>
<rect x="170" y="641" width="2" height="2" fill="#ffb6c1"/>
<rect x="222" y="641" width="4" height="2" fill="#00bfff"/>
<rect x="226" y="641" width="6" height="2" fill="#ffb6c1"/>
<rect x="193" y="643" width="3" height="4" fill="#ff0000"/>
<rect x="208" y="643" width="4" height="4" fill="#ba55d3"/>
<rect x="222" y="643" width="4" height="4" fill="#ba55d3"/>
<rect x="217" y="647" width="5" height="2" fill="#ba55d3"/>
<rect x="172" y="649" width="2" height="2" fill="#ffb6c1"/>
<rect x="208" y="649" width="4" height="2" fill="#ba55d3"/>
<rect x="217" y="649" width="5" height="2" fill="#ba55d3"/>
<rect x="180" y="651" width="4" height="2" fill="#3a3aff"/>
<rect x="203" y="651" width="5" height="2" fill="#ff0000"/>
<rect x="208" y="651" width="4" height="2" fill="#3a3aff"/>
<rect x="217" y="651" width="5" height="2" fill="#ff0000"/>
<rect x="172" y="650" width="2" height="1" fill="#ffb6c1"/>
<rect x="208" y="650" width="4" height="1" fill="#ba55d3"/>
<rect x="217" y="650" width="5" height="1" fill="#ba55d3"/>
<rect x="180" y="651" width="4" height="2" fill="#3a3aff"/>
<rect x="203" y="651" width="5" height="2" fill="#ff0000"/>
<rect x="208" y="651" width="4" height="2" fill="#3a3aff"/>
<rect x="217" y="651" width="5" height="2" fill="#ff0000"/>
<rect x="177" y="653" width="3" height="1" fill="#ba55d3"/>
<rect x="191" y="653" width="5" height="1" fill="#ba55d3"/>
<rect x="199" y="653" width="4" height="1" fill="#00bfff"/>
<rect x="203" y="653" width="5" height="1" fill="#ff0000"/>
<rect x="208" y="653" width="4" height="1" fill="#3a3aff"/>
<rect x="226" y="653" width="6" height="1" fill="#008000"/>
<rect x="170" y="654" width="2" height="2" fill="#ffd700"/>
<rect x="174" y="654" width="3" height="2" fill="#ff0000"/>
<rect x="199" y="654" width="4" height="2" fill="#ba55d3"/>
<rect x="203" y="654" width="5" height="2" fill="#3a3aff"/>
<rect x="208" y="654" width="9" height="2" fill="#ba55d3"/>
<rect x="226" y="654" width="6" height="2" fill="#ba55d3"/>
<rect x="238" y="654" width="6" height="2" fill="#ba55d3"/>
<rect x="170" y="656" width="2" height="2" fill="#00ffff"/>
<rect x="187" y="656" width="4" height="2" fill="#3a3aff"/>
<rect x="208" y="656" width="4" height="2" fill="#3a3aff"/>
<rect x="217" y="656" width="5" height="2" fill="#008000"/>
<rect x="238" y="656" width="6" height="2" fill="#3a3aff"/>
<rect x="170" y="658" width="2" height="2" fill="#ffd700"/>
<rect x="187" y="658" width="9" height="2" fill="#3a3aff"/>
<rect x="199" y="658" width="4" height="2" fill="#3a3aff"/>
<rect x="217" y="658" width="5" height="2" fill="#008000"/>
<rect x="238" y="658" width="6" height="2" fill="#3a3aff"/>
<rect x="172" y="660" width="2" height="2" fill="#ba55d3"/>
<rect x="191" y="660" width="2" height="2" fill="#3a3aff"/>
<rect x="199" y="660" width="4" height="2" fill="#3a3aff"/>
<rect x="238" y="660" width="6" height="2" fill="#3a3aff"/>
<rect x="193" y="662" width="3" height="2" fill="#ba55d3"/>
<rect x="196" y="662" width="3" height="2" fill="#3a3aff"/>
<rect x="203" y="662" width="5" height="2" fill="#ff0000"/>
<rect x="238" y="662" width="6" height="2" fill="#3a3aff"/>
<rect x="184" y="664" width="3" height="2" fill="#ba55d3"/>
<rect x="203" y="664" width="5" height="2" fill="#3a3aff"/>
<rect x="208" y="664" width="4" height="2" fill="#ba55d3"/>
<rect x="212" y="664" width="5" height="2" fill="#3a3aff"/>
<rect x="226" y="664" width="6" height="2" fill="#ba55d3"/>
<rect x="232" y="664" width="6" height="2" fill="#008000"/>
<rect x="203" y="666" width="5" height="1" fill="#3a3aff"/>
<rect x="208" y="666" width="4" height="1" fill="#ff0000"/>
<rect x="226" y="666" width="6" height="1" fill="#008000"/>
<rect x="170" y="667" width="2" height="2" fill="#ffb6c1"/>
<rect x="184" y="667" width="3" height="2" fill="#ffd700"/>
<rect x="196" y="667" width="3" height="2" fill="#ba55d3"/>
<rect x="199" y="667" width="4" height="2" fill="#ffb6c1"/>
<rect x="203" y="667" width="5" height="2" fill="#3a3aff"/>
<rect x="226" y="667" width="6" height="2" fill="#008000"/>
<rect x="232" y="667" width="6" height="2" fill="#00bfff"/>
<rect x="170" y="670" width="4" height="1" fill="#ba55d3"/>
<rect x="174" y="670" width="3" height="1" fill="#3a3aff"/>
<rect x="180" y="670" width="7" height="1" fill="#3a3aff"/>
<rect x="187" y="670" width="6" height="1" fill="#ba55d3"/>
<rect x="196" y="670" width="3" height="1" fill="#3a3aff"/>
<rect x="203" y="670" width="5" height="1" fill="#3a3aff"/>
<rect x="226" y="670" width="4" height="1" fill="#ff0000"/>
<rect x="232" y="670" width="6" height="1" fill="#008000"/>
<rect x="170" y="671" width="4" height="2" fill="#ba55d3"/>
<rect x="174" y="671" width="3" height="2" fill="#3a3aff"/>
<rect x="180" y="671" width="7" height="2" fill="#3a3aff"/>
<rect x="187" y="671" width="6" height="2" fill="#ba55d3"/>
<rect x="196" y="671" width="3" height="2" fill="#3a3aff"/>
<rect x="199" y="671" width="13" height="2" fill="#ba55d3"/>
<rect x="226" y="671" width="4" height="2" fill="#ff0000"/>
<rect x="232" y="671" width="6" height="2" fill="#ba55d3"/>
<rect x="172" y="673" width="5" height="2" fill="#ba55d3"/>
<rect x="177" y="673" width="7" height="2" fill="#3a3aff"/>
<rect x="187" y="673" width="4" height="2" fill="#ba55d3"/>
<rect x="191" y="673" width="2" height="2" fill="#3a3aff"/>
<rect x="193" y="673" width="6" height="2" fill="#ba55d3"/>
<rect x="199" y="673" width="4" height="2" fill="#ff0000"/>
<rect x="203" y="673" width="5" height="2" fill="#ffb6c1"/>
<rect x="208" y="673" width="4" height="2" fill="#ba55d3"/>
<rect x="222" y="673" width="8" height="2" fill="#ff0000"/>
<rect x="232" y="673" width="6" height="2" fill="#ba55d3"/>
<rect x="170" y="675" width="2" height="2" fill="#ba55d3"/>
<rect x="172" y="675" width="2" height="2" fill="#00bfff"/>
<rect x="177" y="675" width="3" height="2" fill="#3a3aff"/>
<rect x="180" y="675" width="7" height="2" fill="#ba55d3"/>
<rect x="191" y="675" width="2" height="2" fill="#ff0000"/>
<rect x="193" y="675" width="3" height="2" fill="#ffb6c1"/>
<rect x="196" y="675" width="3" height="2" fill="#ba55d3"/>
<rect x="199" y="675" width="4" height="2" fill="#ff0000"/>
<rect x="203" y="675" width="5" height="2" fill="#ffb6c1"/>
<rect x="217" y="675" width="5" height="2" fill="#ff0000"/>
<rect x="222" y="675" width="4" height="2" fill="#ffb6c1"/>
<rect x="226" y="675" width="4" height="2" fill="#008000"/>
<rect x="232" y="675" width="6" height="2" fill="#ba55d3"/>
<rect x="238" y="675" width="6" height="2" fill="#ffb6c1"/>
<rect x="170" y="677" width="2" height="2" fill="#ff0000"/>
<rect x="187" y="677" width="4" height="2" fill="#ba55d3"/>
<rect x="191" y="677" width="2" height="2" fill="#ffb6c1"/>
<rect x="193" y="677" width="3" height="2" fill="#ba55d3"/>
<rect x="196" y="677" width="3" height="2" fill="#00ffff"/>
<rect x="199" y="677" width="4" height="2" fill="#ff0000"/>
<rect x="203" y="677" width="9" height="2" fill="#ba55d3"/>
<rect x="212" y="677" width="5" height="2" fill="#ffb6c1"/>
<rect x="217" y="677" width="5" height="2" fill="#00bfff"/>
<rect x="222" y="677" width="16" height="2" fill="#008000"/>
<rect x="170" y="679" width="2" height="1" fill="#ffb6c1"/>
<rect x="174" y="679" width="3" height="1" fill="#ffb6c1"/>
<rect x="177" y="679" width="10" height="1" fill="#ba55d3"/>
<rect x="187" y="679" width="6" height="1" fill="#ff0000"/>
<rect x="193" y="679" width="3" height="1" fill="#ba55d3"/>
<rect x="199" y="679" width="4" height="1" fill="#ff0000"/>
<rect x="208" y="679" width="24" height="1" fill="#ff0000"/>
<rect x="212" y="679" width="5" height="1" fill="#ffb6c1"/>
<rect x="232" y="679" width="12" height="1" fill="#008000"/>
<rect x="170" y="680" width="2" height="2" fill="#ffb6c1"/>
<rect x="174" y="680" width="3" height="2" fill="#ffb6c1"/>
<rect x="180" y="680" width="4" height="2" fill="#ba55d3"/>
<rect x="187" y="680" width="4" height="2" fill="#ff0000"/>
<rect x="191" y="680" width="2" height="2" fill="#ffb6c1"/>
<rect x="193" y="680" width="3" height="2" fill="#ba55d3"/>
<rect x="196" y="680" width="3" height="2" fill="#3a3aff"/>
<rect x="199" y="680" width="4" height="2" fill="#ffb6c1"/>
<rect x="208" y="680" width="24" height="2" fill="#ff0000"/>
<rect x="238" y="680" width="6" height="2" fill="#3a3aff"/>
<rect x="170" y="682" width="2" height="2" fill="#ffb6c1"/>
<rect x="177" y="682" width="3" height="2" fill="#ba55d3"/>
<rect x="180" y="682" width="4" height="2" fill="#ffb6c1"/>
<rect x="191" y="682" width="2" height="2" fill="#ba55d3"/>
<rect x="193" y="682" width="3" height="2" fill="#3a3aff"/>
<rect x="196" y="682" width="3" height="2" fill="#ba55d3"/>
<rect x="199" y="682" width="4" height="2" fill="#ffb6c1"/>
<rect x="203" y="682" width="5" height="2" fill="#ba55d3"/>
<rect x="208" y="682" width="9" height="2" fill="#3a3aff"/>
<rect x="217" y="682" width="9" height="2" fill="#ff0000"/>
<rect x="170" y="684" width="2" height="2" fill="#ffb6c1"/>
<rect x="174" y="684" width="3" height="2" fill="#ffb6c1"/>
<rect x="180" y="684" width="4" height="2" fill="#ffb6c1"/>
<rect x="184" y="684" width="3" height="2" fill="#3a3aff"/>
<rect x="187" y="684" width="4" height="2" fill="#ff0000"/>
<rect x="191" y="684" width="2" height="2" fill="#ba55d3"/>
<rect x="193" y="684" width="3" height="2" fill="#3a3aff"/>
<rect x="203" y="684" width="5" height="2" fill="#ff0000"/>
<rect x="208" y="684" width="4" height="2" fill="#00bfff"/>
<rect x="212" y="684" width="10" height="2" fill="#ff0000"/>
<rect x="170" y="686" width="2" height="2" fill="#ffb6c1"/>
<rect x="174" y="686" width="3" height="2" fill="#ffb6c1"/>
<rect x="180" y="686" width="4" height="2" fill="#ffb6c1"/>
<rect x="184" y="686" width="7" height="2" fill="#ba55d3"/>
<rect x="203" y="686" width="5" height="2" fill="#00bfff"/>
<rect x="208" y="686" width="4" height="2" fill="#ffb6c1"/>
<rect x="212" y="686" width="10" height="2" fill="#ff0000"/>
<rect x="226" y="686" width="6" height="2" fill="#008000"/>
<rect x="172" y="688" width="2" height="2" fill="#ff0000"/>
<rect x="177" y="688" width="7" height="2" fill="#3a3aff"/>
<rect x="184" y="688" width="3" height="2" fill="#ba55d3"/>
<rect x="187" y="688" width="4" height="2" fill="#ff0000"/>
<rect x="203" y="688" width="14" height="2" fill="#ff0000"/>
<rect x="217" y="688" width="5" height="2" fill="#00bfff"/>
<rect x="222" y="688" width="4" height="2" fill="#ff0000"/>
<rect x="226" y="688" width="6" height="2" fill="#008000"/>
<rect x="232" y="688" width="6" height="2" fill="#ffb6c1"/>
<rect x="170" y="690" width="2" height="2" fill="#ffb6c1"/>
<rect x="172" y="690" width="2" height="2" fill="#ff0000"/>
<rect x="174" y="690" width="3" height="2" fill="#3a3aff"/>
<rect x="177" y="690" width="3" height="2" fill="#ba55d3"/>
<rect x="180" y="690" width="4" height="2" fill="#3a3aff"/>
<rect x="187" y="690" width="4" height="2" fill="#ff0000"/>
<rect x="191" y="690" width="2" height="2" fill="#ffb6c1"/>
<rect x="203" y="690" width="5" height="2" fill="#00bfff"/>
<rect x="208" y="690" width="4" height="2" fill="#ff0000"/>
<rect x="217" y="690" width="5" height="2" fill="#00bfff"/>
<rect x="222" y="690" width="4" height="2" fill="#ff0000"/>
<rect x="226" y="690" width="6" height="2" fill="#ba55d3"/>
<rect x="232" y="690" width="6" height="2" fill="#008000"/>
<rect x="238" y="690" width="6" height="2" fill="#ffd700"/>
<rect x="170" y="692" width="2" height="1" fill="#ffb6c1"/>
<rect x="196" y="692" width="3" height="1" fill="#ff0000"/>
<rect x="199" y="692" width="4" height="1" fill="#00bfff"/>
<rect x="203" y="692" width="9" height="1" fill="#ff0000"/>
<rect x="217" y="692" width="5" height="1" fill="#00bfff"/>
<rect x="222" y="692" width="4" height="1" fill="#3a3aff"/>
<rect x="232" y="692" width="6" height="1" fill="#008000"/>
<rect x="238" y="692" width="6" height="1" fill="#ba55d3"/>
<rect x="174" y="693" width="3" height="2" fill="#3a3aff"/>
<rect x="177" y="693" width="3" height="2" fill="#ba55d3"/>
<rect x="180" y="693" width="4" height="2" fill="#3a3aff"/>
<rect x="184" y="693" width="3" height="2" fill="#ba55d3"/>
<rect x="187" y="693" width="4" height="2" fill="#3a3aff"/>
<rect x="191" y="693" width="17" height="2" fill="#ff0000"/>
<rect x="208" y="693" width="4" height="2" fill="#ffb6c1"/>
<rect x="212" y="693" width="5" height="2" fill="#ff0000"/>
<rect x="217" y="693" width="5" height="2" fill="#ffd700"/>
<rect x="222" y="693" width="10" height="2" fill="#008000"/>
<rect x="232" y="693" width="6" height="2" fill="#ffb6c1"/>
<rect x="238" y="693" width="6" height="2" fill="#ba55d3"/>
<rect x="170" y="695" width="2" height="2" fill="#ff0000"/>
<rect x="174" y="695" width="3" height="2" fill="#ba55d3"/>
<rect x="177" y="695" width="3" height="2" fill="#3a3aff"/>
<rect x="180" y="695" width="7" height="2" fill="#ba55d3"/>
<rect x="187" y="695" width="9" height="2" fill="#ffb6c1"/>
<rect x="196" y="695" width="3" height="2" fill="#ba55d3"/>
<rect x="199" y="695" width="4" height="2" fill="#ff0000"/>
<rect x="203" y="695" width="5" height="2" fill="#00bfff"/>
<rect x="208" y="695" width="9" height="2" fill="#ffb6c1"/>
<rect x="217" y="695" width="21" height="2" fill="#008000"/>
<rect x="170" y="697" width="2" height="2" fill="#ff0000"/>
<rect x="172" y="697" width="2" height="2" fill="#ba55d3"/>
<rect x="174" y="697" width="3" height="2" fill="#ff0000"/>
<rect x="177" y="697" width="3" height="2" fill="#ba55d3"/>
<rect x="180" y="697" width="4" height="2" fill="#3a3aff"/>
<rect x="184" y="697" width="3" height="2" fill="#ba55d3"/>
<rect x="187" y="697" width="6" height="2" fill="#ffb6c1"/>
<rect x="193" y="697" width="3" height="2" fill="#3a3aff"/>
<rect x="196" y="697" width="3" height="2" fill="#ff0000"/>
<rect x="199" y="697" width="4" height="2" fill="#ffb6c1"/>
<rect x="203" y="697" width="5" height="2" fill="#00bfff"/>
<rect x="208" y="697" width="4" height="2" fill="#ff0000"/>
<rect x="212" y="697" width="5" height="2" fill="#00bfff"/>
<rect x="217" y="697" width="5" height="2" fill="#ff0000"/>
<rect x="222" y="697" width="4" height="2" fill="#008000"/>
<rect x="226" y="697" width="6" height="2" fill="#00bfff"/>
<rect x="232" y="697" width="12" height="2" fill="#008000"/>
<rect x="170" y="699" width="2" height="2" fill="#ffb6c1"/>
<rect x="172" y="699" width="2" height="2" fill="#ff0000"/>
<rect x="174" y="699" width="3" height="2" fill="#3a3aff"/>
<rect x="177" y="699" width="10" height="2" fill="#ba55d3"/>
<rect x="187" y="699" width="4" height="2" fill="#ffb6c1"/>
<rect x="191" y="699" width="2" height="2" fill="#ba55d3"/>
<rect x="193" y="699" width="6" height="2" fill="#3a3aff"/>
<rect x="199" y="699" width="13" height="2" fill="#ff0000"/>
<rect x="217" y="699" width="5" height="2" fill="#3a3aff"/>
<rect x="232" y="699" width="12" height="2" fill="#008000"/>
<rect x="170" y="701" width="2" height="2" fill="#00bfff"/>
<rect x="172" y="701" width="2" height="2" fill="#ffd700"/>
<rect x="174" y="701" width="10" height="2" fill="#3a3aff"/>
<rect x="184" y="701" width="3" height="2" fill="#ba55d3"/>
<rect x="187" y="701" width="4" height="2" fill="#ff0000"/>
<rect x="191" y="701" width="2" height="2" fill="#00ffff"/>
<rect x="193" y="701" width="3" height="2" fill="#3a3aff"/>
<rect x="196" y="701" width="3" height="2" fill="#00ffff"/>
<rect x="199" y="701" width="4" height="2" fill="#ba55d3"/>
<rect x="203" y="701" width="5" height="2" fill="#ff0000"/>
<rect x="208" y="701" width="4" height="2" fill="#00bfff"/>
<rect x="212" y="701" width="5" height="2" fill="#3a3aff"/>
<rect x="217" y="701" width="5" height="2" fill="#ba55d3"/>
<rect x="232" y="701" width="6" height="2" fill="#008000"/>
<rect x="238" y="701" width="6" height="2" fill="#ff0000"/>
<rect x="170" y="703" width="2" height="2" fill="#ba55d3"/>
<rect x="172" y="703" width="2" height="2" fill="#ffd700"/>
<rect x="174" y="703" width="3" height="2" fill="#ba55d3"/>
<rect x="177" y="703" width="7" height="2" fill="#3a3aff"/>
<rect x="187" y="703" width="4" height="2" fill="#ff0000"/>
<rect x="191" y="703" width="2" height="2" fill="#3a3aff"/>
<rect x="193" y="703" width="3" height="2" fill="#ff0000"/>
<rect x="199" y="703" width="4" height="2" fill="#008000"/>
<rect x="203" y="703" width="5" height="2" fill="#00bfff"/>
<rect x="208" y="703" width="4" height="2" fill="#3a3aff"/>
<rect x="170" y="705" width="2" height="1" fill="#00bfff"/>
<rect x="172" y="705" width="2" height="1" fill="#ff0000"/>
<rect x="177" y="705" width="3" height="1" fill="#ff0000"/>
<rect x="193" y="705" width="3" height="1" fill="#ff0000"/>
<rect x="199" y="705" width="4" height="1" fill="#00bfff"/>
<rect x="193" y="706" width="3" height="2" fill="#3a3aff"/>
<rect x="174" y="708" width="3" height="2" fill="#ff0000"/>
<rect x="187" y="708" width="4" height="2" fill="#ffb6c1"/>
<rect x="238" y="654" width="6" height="2" fill="#ba55d3"/>
<rect x="238" y="656" width="6" height="8" fill="#3a3aff"/>
<rect x="238" y="675" width="6" height="2" fill="#ffb6c1"/>
<rect x="238" y="679" width="6" height="1" fill="#008000"/>
<rect x="238" y="680" width="6" height="2" fill="#3a3aff"/>
<rect x="238" y="684" width="6" height="2" fill="#008000"/>
<rect x="238" y="686" width="6" height="2" fill="#ba55d3"/>
<rect x="238" y="688" width="6" height="2" fill="#008000"/>
<rect x="238" y="690" width="6" height="2" fill="#ffd700"/>
<rect x="238" y="692" width="6" height="5" fill="#ba55d3"/>
<rect x="238" y="697" width="6" height="4" fill="#008000"/>
<rect x="238" y="701" width="6" height="2" fill="#ff0000"/>
<rect x="244" y="671" width="4" height="2" fill="#ba55d3"/>
<rect x="244" y="673" width="4" height="4" fill="#ffb6c1"/>
<rect x="244" y="680" width="4" height="2" fill="#ba55d3"/>
<rect x="244" y="682" width="4" height="2" fill="#3a3aff"/>
<rect x="244" y="684" width="4" height="6" fill="#ba55d3"/>
<rect x="244" y="690" width="4" height="2" fill="#008000"/>
<rect x="244" y="695" width="4" height="6" fill="#3a3aff"/>
<rect x="248" y="656" width="4" height="2" fill="#ba55d3"/>
<rect x="248" y="666" width="4" height="3" fill="#3a3aff"/>
<rect x="248" y="673" width="4" height="2" fill="#ffb6c1"/>
<rect x="248" y="675" width="4" height="2" fill="#ba55d3"/>
<rect x="248" y="679" width="4" height="3" fill="#ba55d3"/>
<rect x="248" y="682" width="4" height="2" fill="#3a3aff"/>
<rect x="248" y="684" width="4" height="6" fill="#ba55d3"/>
<rect x="248" y="692" width="4" height="1" fill="#3a3aff"/>
<rect x="248" y="693" width="4" height="2" fill="#00bfff"/>
<rect x="248" y="695" width="4" height="6" fill="#3a3aff"/>
<rect x="252" y="666" width="4" height="3" fill="#3a3aff"/>
<rect x="252" y="671" width="4" height="4" fill="#00bfff"/>
<rect x="252" y="675" width="4" height="4" fill="#ba55d3"/>
<rect x="252" y="679" width="4" height="1" fill="#3a3aff"/>
<rect x="252" y="680" width="4" height="2" fill="#ba55d3"/>
<rect x="252" y="682" width="4" height="4" fill="#008000"/>
<rect x="252" y="686" width="4" height="4" fill="#ba55d3"/>
<rect x="252" y="692" width="4" height="3" fill="#3a3aff"/>
<rect x="252" y="695" width="4" height="4" fill="#00bfff"/>
<rect x="252" y="699" width="4" height="2" fill="#008000"/>
<rect x="252" y="712" width="4" height="2" fill="#3a3aff"/>
<rect x="256" y="653" width="4" height="3" fill="#008000"/>
<rect x="256" y="658" width="4" height="2" fill="#ba55d3"/>
<rect x="256" y="662" width="4" height="2" fill="#3a3aff"/>
<rect x="256" y="664" width="4" height="2" fill="#008000"/>
<rect x="256" y="666" width="4" height="3" fill="#3a3aff"/>
<rect x="256" y="670" width="4" height="1" fill="#3a3aff"/>
<rect x="256" y="673" width="4" height="2" fill="#ba55d3"/>
<rect x="256" y="675" width="4" height="2" fill="#008000"/>
<rect x="256" y="680" width="4" height="4" fill="#ba55d3"/>
<rect x="256" y="684" width="4" height="2" fill="#008000"/>
<rect x="256" y="686" width="4" height="4" fill="#ffb6c1"/>
<rect x="256" y="690" width="4" height="9" fill="#3a3aff"/>
<rect x="256" y="699" width="4" height="2" fill="#008000"/>
<rect x="260" y="677" width="5" height="3" fill="#ba55d3"/>
<rect x="260" y="680" width="5" height="4" fill="#008000"/>
<rect x="260" y="688" width="5" height="4" fill="#3a3aff"/>
<rect x="265" y="667" width="4" height="2" fill="#ba55d3"/>
<rect x="265" y="670" width="4" height="3" fill="#ba55d3"/>
<rect x="265" y="673" width="4" height="2" fill="#008000"/>
<rect x="265" y="675" width="4" height="4" fill="#ba55d3"/>
<rect x="265" y="692" width="4" height="1" fill="#3a3aff"/>
<rect x="269" y="662" width="4" height="2" fill="#ba55d3"/>
<rect x="269" y="666" width="4" height="4" fill="#ffb6c1"/>
<rect x="269" y="671" width="4" height="2" fill="#ba55d3"/>
<rect x="269" y="673" width="4" height="2" fill="#ffb6c1"/>
<rect x="269" y="677" width="4" height="3" fill="#ffb6c1"/>
<rect x="269" y="688" width="4" height="4" fill="#3a3aff"/>
<rect x="273" y="660" width="4" height="4" fill="#ffb6c1"/>
<rect x="273" y="664" width="4" height="2" fill="#ba55d3"/>
<rect x="273" y="667" width="4" height="2" fill="#ba55d3"/>
<rect x="273" y="670" width="4" height="1" fill="#ba55d3"/>
<rect x="273" y="671" width="4" height="4" fill="#ffb6c1"/>
<rect x="273" y="682" width="4" height="2" fill="#ba55d3"/>
<rect x="273" y="684" width="4" height="2" fill="#008000"/>
<rect x="273" y="686" width="4" height="6" fill="#3a3aff"/>
<rect x="277" y="664" width="3" height="2" fill="#ba55d3"/>
<rect x="277" y="666" width="3" height="1" fill="#ffb6c1"/>
<rect x="277" y="670" width="3" height="3" fill="#ffb6c1"/>
<rect x="252" y="632" width="4" height="2" fill="#00ffff"/>
<rect x="265" y="634" width="4" height="2" fill="#ba55d3"/>
<rect x="256" y="643" width="4" height="2" fill="#ba55d3"/>
<rect x="256" y="645" width="4" height="4" fill="#008000"/>
<rect x="169" y="714" width="3" height="2" fill="#ff0000"/>
<rect x="187" y="716" width="4" height="2" fill="#ba55d3"/>
<rect x="169" y="721" width="3" height="2" fill="#ffb6c1"/>
<rect x="187" y="723" width="4" height="2" fill="#ff0000"/>
<rect x="248" y="732" width="4" height="2" fill="#00bfff"/>
<rect x="248" y="734" width="4" height="4" fill="#00ffff"/>
<rect x="222" y="586" width="4" height="3" fill="#ba55d3"/>
</g>
<g stroke="#b0b0b0" stroke-width="1" fill="none">
<line x1="138.50" y1="100.1" x2="138.50" y2="793.1"/>
<line x1="230.50" y1="100.1" x2="230.50" y2="793.1"/>
<line x1="323.50" y1="100.1" x2="323.50" y2="793.1"/>
<line x1="415.50" y1="100.1" x2="415.50" y2="793.1"/>
<line x1="508.50" y1="100.1" x2="508.50" y2="793.1"/>
<line x1="600.50" y1="100.1" x2="600.50" y2="793.1"/>
<line x1="692.50" y1="100.1" x2="692.50" y2="793.1"/>
<line x1="785.50" y1="100.1" x2="785.50" y2="793.1"/>
<line x1="92.2" y1="793.50" x2="785.2" y2="793.50"/>
<line x1="92.2" y1="669.50" x2="785.2" y2="669.50"/>
<line x1="92.2" y1="545.50" x2="785.2" y2="545.50"/>
<line x1="92.2" y1="421.50" x2="785.2" y2="421.50"/>
<line x1="92.2" y1="298.50" x2="785.2" y2="298.50"/>
<line x1="92.2" y1="174.50" x2="785.2" y2="174.50"/>
</g>
<g stroke="#000" fill="none">
<line x1="138.50" y1="793.1" x2="138.50" y2="798.40" stroke-width="1.1"/>
<line x1="230.50" y1="793.1" x2="230.50" y2="798.40" stroke-width="1.1"/>
<line x1="323.50" y1="793.1" x2="323.50" y2="798.40" stroke-width="1.1"/>
<line x1="415.50" y1="793.1" x2="415.50" y2="798.40" stroke-width="1.1"/>
<line x1="508.50" y1="793.1" x2="508.50" y2="798.40" stroke-width="1.1"/>
<line x1="600.50" y1="793.1" x2="600.50" y2="798.40" stroke-width="1.1"/>
<line x1="692.50" y1="793.1" x2="692.50" y2="798.40" stroke-width="1.1"/>
<line x1="785.50" y1="793.1" x2="785.50" y2="798.40" stroke-width="1.1"/>
<line x1="92.50" y1="793.1" x2="92.50" y2="796.30" stroke-width="0.85"/>
<line x1="115.50" y1="793.1" x2="115.50" y2="796.30" stroke-width="0.85"/>
<line x1="161.50" y1="793.1" x2="161.50" y2="796.30" stroke-width="0.85"/>
<line x1="184.50" y1="793.1" x2="184.50" y2="796.30" stroke-width="0.85"/>
<line x1="207.50" y1="793.1" x2="207.50" y2="796.30" stroke-width="0.85"/>
<line x1="253.50" y1="793.1" x2="253.50" y2="796.30" stroke-width="0.85"/>
<line x1="277.50" y1="793.1" x2="277.50" y2="796.30" stroke-width="0.85"/>
<line x1="300.50" y1="793.1" x2="300.50" y2="796.30" stroke-width="0.85"/>
<line x1="346.50" y1="793.1" x2="346.50" y2="796.30" stroke-width="0.85"/>
<line x1="369.50" y1="793.1" x2="369.50" y2="796.30" stroke-width="0.85"/>
<line x1="392.50" y1="793.1" x2="392.50" y2="796.30" stroke-width="0.85"/>
<line x1="438.50" y1="793.1" x2="438.50" y2="796.30" stroke-width="0.85"/>
<line x1="461.50" y1="793.1" x2="461.50" y2="796.30" stroke-width="0.85"/>
<line x1="484.50" y1="793.1" x2="484.50" y2="796.30" stroke-width="0.85"/>
<line x1="531.50" y1="793.1" x2="531.50" y2="796.30" stroke-width="0.85"/>
<line x1="554.50" y1="793.1" x2="554.50" y2="796.30" stroke-width="0.85"/>
<line x1="577.50" y1="793.1" x2="577.50" y2="796.30" stroke-width="0.85"/>
<line x1="623.50" y1="793.1" x2="623.50" y2="796.30" stroke-width="0.85"/>
<line x1="646.50" y1="793.1" x2="646.50" y2="796.30" stroke-width="0.85"/>
<line x1="669.50" y1="793.1" x2="669.50" y2="796.30" stroke-width="0.85"/>
<line x1="715.50" y1="793.1" x2="715.50" y2="796.30" stroke-width="0.85"/>
<line x1="739.50" y1="793.1" x2="739.50" y2="796.30" stroke-width="0.85"/>
<line x1="762.50" y1="793.1" x2="762.50" y2="796.30" stroke-width="0.85"/>
<line x1="86.90" y1="793.50" x2="92.2" y2="793.50" stroke-width="1.1"/>
<line x1="86.90" y1="669.50" x2="92.2" y2="669.50" stroke-width="1.1"/>
<line x1="86.90" y1="545.50" x2="92.2" y2="545.50" stroke-width="1.1"/>
<line x1="86.90" y1="421.50" x2="92.2" y2="421.50" stroke-width="1.1"/>
<line x1="86.90" y1="298.50" x2="92.2" y2="298.50" stroke-width="1.1"/>
<line x1="86.90" y1="174.50" x2="92.2" y2="174.50" stroke-width="1.1"/>
<line x1="89.00" y1="762.50" x2="92.2" y2="762.50" stroke-width="0.85"/>
<line x1="89.00" y1="731.50" x2="92.2" y2="731.50" stroke-width="0.85"/>
<line x1="89.00" y1="700.50" x2="92.2" y2="700.50" stroke-width="0.85"/>
<line x1="89.00" y1="638.50" x2="92.2" y2="638.50" stroke-width="0.85"/>
<line x1="89.00" y1="607.50" x2="92.2" y2="607.50" stroke-width="0.85"/>
<line x1="89.00" y1="576.50" x2="92.2" y2="576.50" stroke-width="0.85"/>
<line x1="89.00" y1="514.50" x2="92.2" y2="514.50" stroke-width="0.85"/>
<line x1="89.00" y1="483.50" x2="92.2" y2="483.50" stroke-width="0.85"/>
<line x1="89.00" y1="452.50" x2="92.2" y2="452.50" stroke-width="0.85"/>
<line x1="89.00" y1="390.50" x2="92.2" y2="390.50" stroke-width="0.85"/>
<line x1="89.00" y1="359.50" x2="92.2" y2="359.50" stroke-width="0.85"/>
<line x1="89.00" y1="329.50" x2="92.2" y2="329.50" stroke-width="0.85"/>
<line x1="89.00" y1="267.50" x2="92.2" y2="267.50" stroke-width="0.85"/>
<line x1="89.00" y1="236.50" x2="92.2" y2="236.50" stroke-width="0.85"/>
<line x1="89.00" y1="205.50" x2="92.2" y2="205.50" stroke-width="0.85"/>
<line x1="89.00" y1="143.50" x2="92.2" y2="143.50" stroke-width="0.85"/>
<line x1="89.00" y1="112.50" x2="92.2" y2="112.50" stroke-width="0.85"/>
</g>
<rect x="92.5" y="100.5" width="693.0" height="693.0" fill="none" stroke="#000" stroke-width="1.1"/>
<g font-size="16.67px">
<text x="138.50" y="815.2" text-anchor="middle">2</text>
<text x="230.50" y="815.2" text-anchor="middle">4</text>
<text x="323.50" y="815.2" text-anchor="middle">6</text>
<text x="415.50" y="815.2" text-anchor="middle">8</text>
<text x="508.50" y="815.2" text-anchor="middle">10</text>
<text x="600.50" y="815.2" text-anchor="middle">12</text>
<text x="692.50" y="815.2" text-anchor="middle">14</text>
<text x="785.50" y="815.2" text-anchor="middle">16</text>
<text x="82.3" y="799.10" text-anchor="end">0</text>
<text x="82.3" y="675.10" text-anchor="end">200</text>
<text x="82.3" y="551.10" text-anchor="end">400</text>
<text x="82.3" y="427.10" text-anchor="end">600</text>
<text x="82.3" y="304.10" text-anchor="end">800</text>
<text x="82.3" y="180.10" text-anchor="end">1000</text>
</g>
<text x="438.2" y="841.7" font-size="24.2px" text-anchor="middle">Frequency (MHz)</text>
<text transform="translate(28.2,447) rotate(-90)" font-size="24px" text-anchor="middle">Virtual height (km)</text>
<text x="427" y="31.9" font-size="29px" text-anchor="middle">NAL CADI - Jan 31 05:00:00 2026 UTC</text>
<g shape-rendering="crispEdges">
<rect x="816.5" y="82.30" width="30.10" height="90.51" fill="#00bfff"/>
<rect x="816.5" y="172.31" width="30.10" height="90.51" fill="#00ffff"/>
<rect x="816.5" y="262.32" width="30.10" height="90.51" fill="#ffd700"/>
<rect x="816.5" y="352.34" width="30.10" height="90.51" fill="#ffb6c1"/>
<rect x="816.5" y="442.35" width="30.10" height="90.51" fill="#ba55d3"/>
<rect x="816.5" y="532.36" width="30.10" height="90.51" fill="#3a3aff"/>
<rect x="816.5" y="622.38" width="30.10" height="90.51" fill="#ff0000"/>
<rect x="816.5" y="712.39" width="30.10" height="90.51" fill="#008000"/>
</g>
<rect x="816.5" y="82.3" width="30.10" height="720.10" fill="none" stroke="#000" stroke-width="1.1"/>
<g stroke="#000" fill="none">
<line x1="846.6" y1="82.30" x2="849.80" y2="82.30" stroke-width="0.85"/>
<line x1="846.6" y1="172.31" x2="849.80" y2="172.31" stroke-width="0.85"/>
<line x1="846.6" y1="262.32" x2="849.80" y2="262.32" stroke-width="0.85"/>
<line x1="846.6" y1="352.34" x2="849.80" y2="352.34" stroke-width="0.85"/>
<line x1="846.6" y1="442.35" x2="849.80" y2="442.35" stroke-width="0.85"/>
<line x1="846.6" y1="532.36" x2="849.80" y2="532.36" stroke-width="0.85"/>
<line x1="846.6" y1="622.38" x2="849.80" y2="622.38" stroke-width="0.85"/>
<line x1="846.6" y1="712.39" x2="849.80" y2="712.39" stroke-width="0.85"/>
<line x1="846.6" y1="802.40" x2="849.80" y2="802.40" stroke-width="0.85"/>
<line x1="846.6" y1="127.31" x2="851.90" y2="127.31" stroke-width="1.1"/>
<line x1="846.6" y1="217.32" x2="851.90" y2="217.32" stroke-width="1.1"/>
<line x1="846.6" y1="307.33" x2="851.90" y2="307.33" stroke-width="1.1"/>
<line x1="846.6" y1="397.34" x2="851.90" y2="397.34" stroke-width="1.1"/>
<line x1="846.6" y1="487.36" x2="851.90" y2="487.36" stroke-width="1.1"/>
<line x1="846.6" y1="577.37" x2="851.90" y2="577.37" stroke-width="1.1"/>
<line x1="846.6" y1="667.38" x2="851.90" y2="667.38" stroke-width="1.1"/>
<line x1="846.6" y1="757.39" x2="851.90" y2="757.39" stroke-width="1.1"/>
</g>
<g font-size="16.45px">
<text x="856.0" y="132.91">NNE</text>
<text x="856.0" y="222.92">E</text>
<text x="856.0" y="312.93">SSE</text>
<text x="856.0" y="402.94">SSW</text>
<text x="856.0" y="492.96">W</text>
<text x="856.0" y="582.97">NNW</text>
<text x="856.0" y="672.98">Vertical</text>
<text x="856.0" y="762.99">X-mode</text>
</g>
<text transform="translate(943.5,442.3) rotate(-90)" font-size="24.2px" text-anchor="middle">Azimuth Direction</text>
</svg></body></html>
